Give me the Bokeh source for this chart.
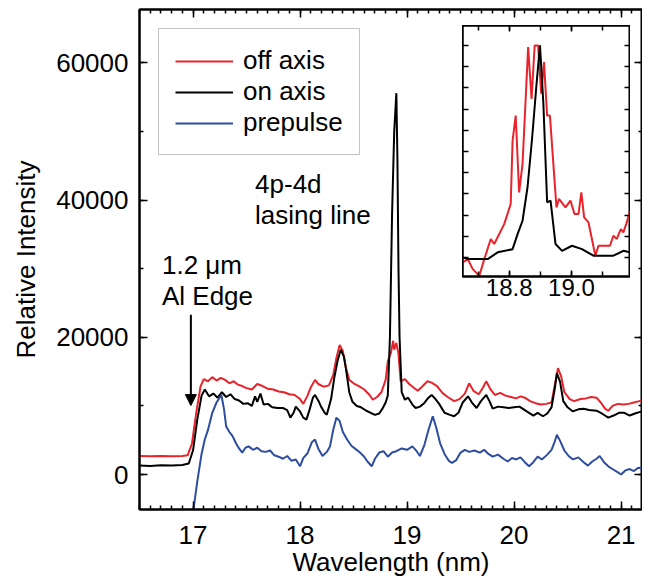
from bokeh.plotting import figure
from bokeh.models import (Range1d, LinearAxis, SingleIntervalTicker, ColumnDataSource, CustomJSTickFormatter,
                          Arrow, NormalHead, PrintfTickFormatter, BasicTickFormatter, Legend)
from bokeh.core.properties import value
from bokeh.embed import file_html
from bokeh.resources import INLINE

FONT = "Liberation Sans"
RED = "#e8232b"
BLUE = "#2e4d9f"
BLACK = "#000000"

# ---------------- data ----------------
off_wl = [16.50, 16.60, 16.70, 16.80, 16.90, 16.95, 16.99, 17.03, 17.07, 17.10, 17.14, 17.18, 17.22, 17.26,
          17.30, 17.34, 17.38, 17.42, 17.46, 17.50, 17.55, 17.60, 17.65, 17.70, 17.75, 17.80, 17.85, 17.90,
          17.95, 18.00, 18.03, 18.07, 18.10, 18.14, 18.17, 18.22, 18.27, 18.31, 18.34, 18.37, 18.40, 18.43,
          18.46, 18.50, 18.55, 18.60, 18.65, 18.68, 18.72, 18.76, 18.80, 18.82, 18.85, 18.87, 18.88, 18.90,
          18.92, 18.94, 18.98, 19.02, 19.06, 19.10, 19.14, 19.19, 19.23, 19.28, 19.33, 19.38, 19.44, 19.49,
          19.54, 19.58, 19.62, 19.67, 19.71, 19.74, 19.78, 19.82, 19.87, 19.92, 19.97, 20.02, 20.06, 20.10,
          20.15, 20.20, 20.25, 20.30, 20.35, 20.38, 20.41, 20.44, 20.47, 20.52, 20.56, 20.62, 20.67, 20.72,
          20.77, 20.81, 20.85, 20.88, 20.92, 20.97, 21.02, 21.07, 21.12, 21.17, 21.20]
off_val = [2700, 2650, 2700, 2680, 2700, 2800, 4500, 9000, 12800, 13900, 13600, 14200, 13700, 14100,
           13800, 13300, 13600, 13100, 12900, 12600, 12400, 13200, 12900, 12500, 12400, 12100, 12000, 11700,
           11600, 11000, 10300, 11500, 12700, 13800, 13200, 12800, 13000, 14500, 17000, 18900, 18000, 15500,
           13800, 13300, 12900, 12400, 11600, 10900, 11300, 12000, 13800, 16500, 17800, 19500, 18200, 19200,
           17600, 13600, 13900, 13200, 12700, 12200, 12800, 13600, 13400, 12900, 11900, 11300, 10700, 11000,
           11800, 13300, 12200, 11700, 12700, 13600, 12400, 11600, 11900, 11500, 11300, 11100, 11400, 11200,
           10700, 10400, 10200, 10300, 10500, 13000, 15500, 14300, 12000, 11000, 10700, 11000, 11100, 11300,
           11200, 10500, 9600, 9300, 10000, 10300, 10200, 10300, 10500, 10700, 10900]

on_wl = [16.50, 16.60, 16.70, 16.80, 16.90, 16.96, 17.00, 17.04, 17.08, 17.11, 17.15, 17.19, 17.23, 17.27,
         17.31, 17.35, 17.39, 17.43, 17.47, 17.51, 17.55, 17.58, 17.60, 17.63, 17.66, 17.70, 17.74, 17.79,
         17.84, 17.88, 17.91, 17.94, 17.96, 18.00, 18.03, 18.06, 18.09, 18.12, 18.14, 18.17, 18.20, 18.23,
         18.25, 18.29, 18.32, 18.35, 18.38, 18.41, 18.43, 18.46, 18.49, 18.53, 18.57, 18.62, 18.66, 18.70,
         18.74, 18.77, 18.80, 18.82, 18.84, 18.86, 18.88, 18.90, 18.91, 18.92, 18.93, 18.95, 18.98, 19.01,
         19.05, 19.08, 19.12, 19.16, 19.20, 19.23, 19.26, 19.30, 19.35, 19.40, 19.44, 19.48, 19.52, 19.57,
         19.61, 19.65, 19.69, 19.74, 19.77, 19.80, 19.85, 19.90, 19.95, 20.00, 20.05, 20.09, 20.14, 20.18,
         20.22, 20.27, 20.31, 20.35, 20.38, 20.40, 20.43, 20.46, 20.50, 20.55, 20.60, 20.65, 20.70, 20.77,
         20.82, 20.88, 20.93, 20.98, 21.03, 21.08, 21.13, 21.17, 21.20]
on_val = [1300, 1250, 1350, 1300, 1400, 1600, 3500, 8000, 11500, 12400, 11400, 11800, 11200, 12000,
          11300, 11700, 11000, 10800, 10300, 10400, 10000, 11400, 10600, 11800, 10200, 10300, 9800, 9700,
          9700, 9400, 8300, 9000, 9900, 9200, 8300, 8000, 9500, 11200, 11600, 10800, 9800, 9000,
          8700, 11000, 14100, 16500, 18200, 17200, 15300, 12000, 10600, 10000, 9800, 9300, 9000, 8700,
          8900, 9600, 10500, 11500, 20000, 38000, 50000, 55600, 46000, 30000, 20000, 12000, 10900, 11200,
          10200, 9700, 9900, 10400, 11200, 11600, 11100, 10300, 9000, 8700, 8500, 9000, 10500, 11400,
          10400, 9700, 10700, 11600, 10700, 9600, 9900, 9800, 9700, 9800, 9900, 9500, 9000, 8600,
          9000, 8500, 8900, 9800, 12500, 14800, 13500, 10700, 9800, 9200, 9500, 9600, 9400, 9300,
          8900, 8300, 8600, 9000, 9000, 8600, 8900, 9100, 9200]

pre_wl = [17.00, 17.04, 17.08, 17.11, 17.14, 17.18, 17.22, 17.265, 17.29, 17.31, 17.34, 17.37, 17.40, 17.43,
          17.46, 17.49, 17.52, 17.56, 17.60, 17.64, 17.68, 17.72, 17.76, 17.80, 17.84, 17.88, 17.92, 17.96,
          18.00, 18.03, 18.07, 18.11, 18.14, 18.17, 18.21, 18.25, 18.28, 18.31, 18.34, 18.37, 18.40, 18.44,
          18.48, 18.52, 18.56, 18.60, 18.63, 18.67, 18.70, 18.74, 18.78, 18.82, 18.86, 18.90, 18.95, 19.00,
          19.05, 19.09, 19.12, 19.16, 19.20, 19.24, 19.27, 19.31, 19.35, 19.39, 19.42, 19.46, 19.50, 19.54,
          19.58, 19.63, 19.68, 19.72, 19.76, 19.80, 19.85, 19.90, 19.94, 19.98, 20.02, 20.06, 20.10, 20.14,
          20.18, 20.22, 20.26, 20.31, 20.35, 20.38, 20.40, 20.43, 20.47, 20.51, 20.55, 20.60, 20.65, 20.69,
          20.73, 20.77, 20.80, 20.84, 20.88, 20.93, 20.97, 21.00, 21.04, 21.08, 21.12, 21.16, 21.20]
pre_val = [-5600, -1000, 3000, 5100, 6500, 9000, 10500, 11600, 9500, 7000, 6200, 5600, 4600, 3800,
           3200, 3900, 4100, 3600, 3900, 3400, 3300, 3500, 2800, 2600, 2300, 2700, 2000, 2200,
           1200, 2400, 3100, 4700, 5100, 3800, 2700, 3300, 4100, 6500, 8300, 7800, 6200, 5100,
           4200, 3700, 3200, 2600, 1900, 1200, 2300, 3200, 3400, 2600, 3200, 3400, 3800, 3600,
           4100, 3400, 2700, 4200, 6500, 8500, 7000, 4500, 3000, 2000, 1700, 2100, 3200, 3600,
           3300, 3500, 3200, 3600, 3000, 2600, 2900, 2300, 1900, 2400, 2200, 2500, 1800, 1200,
           1800, 2600, 2200, 2900, 3600, 4800, 5800, 4900, 3500, 2700, 2200, 2500, 1800, 1300,
           1900, 2300, 2700, 1800, 1200, 700, 300, 0, 600, 800, 500, 1000, 900]

# inset (normalized intensity)
ins_on_wl = [18.651, 18.667, 18.731, 18.763, 18.811, 18.827, 18.843, 18.859, 18.874, 18.888, 18.899,
             18.910, 18.922, 18.933, 18.949, 18.970, 19.002, 19.034, 19.071, 19.135, 19.167, 19.188]
ins_on_val = [0.100, 0.092, 0.092, 0.124, 0.139, 0.210, 0.273, 0.431, 0.667, 0.919, 1.100,
              0.824, 0.360, 0.368, 0.163, 0.131, 0.155, 0.139, 0.108, 0.108, 0.131, 0.124]
ins_off_wl = [18.651, 18.667, 18.683, 18.704, 18.720, 18.741, 18.752, 18.784, 18.805, 18.811, 18.821,
              18.832, 18.843, 18.861, 18.872, 18.882, 18.893, 18.903, 18.912, 18.922, 18.931, 18.952,
              18.960, 18.981, 18.997, 19.010, 19.023, 19.032, 19.041, 19.055, 19.077, 19.087, 19.124,
              19.135, 19.146, 19.159, 19.167, 19.178, 19.188]
ins_off_val = [0.076, 0.092, 0.045, 0.013, 0.092, 0.187, 0.163, 0.257, 0.352, 0.651, 0.769,
               0.407, 0.541, 1.092, 0.848, 1.100, 1.100, 0.872, 1.021, 0.769, 0.769, 0.336,
               0.376, 0.336, 0.368, 0.305, 0.305, 0.407, 0.289, 0.265, 0.108, 0.155, 0.155,
               0.202, 0.187, 0.234, 0.218, 0.265, 0.320]

series_names = ["off axis", "on axis", "prepulse"]
ann_text = ["4p-4d", "lasing line", "1.2 \u03bcm", "Al Edge"]
ann_x = [17.58, 17.58, 16.71, 16.71]
ann_y = [42400, 37900, 30600, 26100]

EMPTY = CustomJSTickFormatter(code="return ''")

# ---------------- main figure ----------------
p = figure(width=642, height=579, x_range=Range1d(16.5, 21.2), y_range=Range1d(-5100, 67800),
           output_backend="svg", toolbar_location=None, min_border_left=139, min_border_right=0,
           min_border_top=9, min_border_bottom=69)
p.background_fill_color = "white"
p.border_fill_color = "white"
p.grid.visible = False
p.outline_line_color = "black"
p.outline_line_width = 2


def style_axis(ax, show_labels):
    ax.axis_line_width = 2
    ax.axis_line_color = "black"
    ax.major_tick_in = 8
    ax.major_tick_out = 0
    ax.minor_tick_in = 4
    ax.minor_tick_out = 0
    ax.major_tick_line_width = 1.5
    ax.minor_tick_line_width = 1.5
    ax.major_label_text_font = FONT
    ax.axis_label_text_font = FONT
    ax.axis_label_text_font_style = "normal"
    ax.major_label_text_color = "black"
    ax.axis_label_text_color = "black"
    if show_labels:
        ax.major_label_text_font_size = "26px"
        ax.axis_label_text_font_size = "26px"
    else:
        ax.formatter = EMPTY
        ax.major_label_standoff = 0


p.xaxis.ticker = SingleIntervalTicker(interval=1, num_minor_ticks=10)
p.yaxis.ticker = SingleIntervalTicker(interval=20000, num_minor_ticks=2)
p.yaxis.formatter = BasicTickFormatter(use_scientific=False)
style_axis(p.xaxis[0], True)
style_axis(p.yaxis[0], True)
p.xaxis.axis_label = "Wavelength (nm)"
p.yaxis.axis_label = "Relative Intensity"
p.xaxis.major_label_standoff = 16
p.xaxis.axis_label_standoff = 0
p.yaxis.major_label_standoff = 11
p.yaxis.axis_label_standoff = 12

top_ax = LinearAxis(ticker=SingleIntervalTicker(interval=1, num_minor_ticks=10))
style_axis(top_ax, False)
p.add_layout(top_ax, "above")
right_ax = LinearAxis(ticker=SingleIntervalTicker(interval=20000, num_minor_ticks=2))
style_axis(right_ax, False)
p.add_layout(right_ax, "right")

r_off = p.line(off_wl, off_val, line_color=RED, line_width=2)
r_on = p.line(on_wl, on_val, line_color=BLACK, line_width=2)
r_pre = p.line(pre_wl, pre_val, line_color=BLUE, line_width=2)

legend = Legend(items=[(series_names[0], [r_off]), (series_names[1], [r_on]), (series_names[2], [r_pre])],
                location="top_left")
legend.margin = 19
legend.padding = 16
legend.spacing = 0
legend.glyph_width = 58
legend.glyph_height = 28
legend.label_height = 28
legend.label_standoff = 10
legend.label_text_font = FONT
legend.label_text_font_size = "26px"
legend.label_text_color = "black"
legend.border_line_color = "#888888"
legend.border_line_width = 1.5
legend.background_fill_alpha = 1
p.add_layout(legend)

src = ColumnDataSource(dict(x=ann_x, y=ann_y, t=ann_text))
p.text(x="x", y="y", text="t", source=src, text_font=value(FONT), text_font_size="26px",
       text_align="left", text_baseline="middle", text_color="black")

p.add_layout(Arrow(end=NormalHead(size=11, fill_color="black", line_color="black"),
                   x_start=16.98, y_start=23300, x_end=16.98, y_end=10050,
                   line_width=2, line_color="black"))

# ---------------- inset ----------------
ins = figure(width=168, height=290, x_range=Range1d(18.65, 19.19), y_range=Range1d(0.01, 1.194),
             output_backend="svg", toolbar_location=None, min_border=0, min_border_bottom=39,
             x_axis_location="below", y_axis_location="left")
ins.grid.visible = False
ins.outline_line_color = "black"
ins.outline_line_width = 2
ins.background_fill_color = "white"
ins.border_fill_color = "white"


def style_inset_axis(ax, show_labels):
    ax.axis_line_width = 2
    ax.major_tick_in = 6
    ax.major_tick_out = 0
    ax.minor_tick_in = 5
    ax.minor_tick_out = 0
    ax.major_tick_line_width = 1.5
    ax.minor_tick_line_width = 1.5
    ax.major_label_text_font = FONT
    ax.major_label_text_color = "black"
    if show_labels:
        ax.major_label_text_font_size = "24px"
        ax.major_label_standoff = 2
    else:
        ax.formatter = EMPTY
        ax.major_label_standoff = 0


ins.xaxis.ticker = SingleIntervalTicker(interval=0.2, num_minor_ticks=2)
ins.xaxis.formatter = PrintfTickFormatter(format="%.1f")
style_inset_axis(ins.xaxis[0], True)
ins.yaxis.ticker = SingleIntervalTicker(interval=0.1, num_minor_ticks=0)
style_inset_axis(ins.yaxis[0], False)
ia = LinearAxis(ticker=SingleIntervalTicker(interval=0.2, num_minor_ticks=2))
style_inset_axis(ia, False)
ins.add_layout(ia, "above")
ira = LinearAxis(ticker=SingleIntervalTicker(interval=0.1, num_minor_ticks=0))
style_inset_axis(ira, False)
ins.add_layout(ira, "right")

ins.line(ins_off_wl, ins_off_val, line_color=RED, line_width=2)
ins.line(ins_on_wl, ins_on_val, line_color=BLACK, line_width=2)
ins.styles = {"position": "absolute", "left": "462px", "top": "25px"}

open("out.html", "w").write(file_html([p, ins], INLINE))
